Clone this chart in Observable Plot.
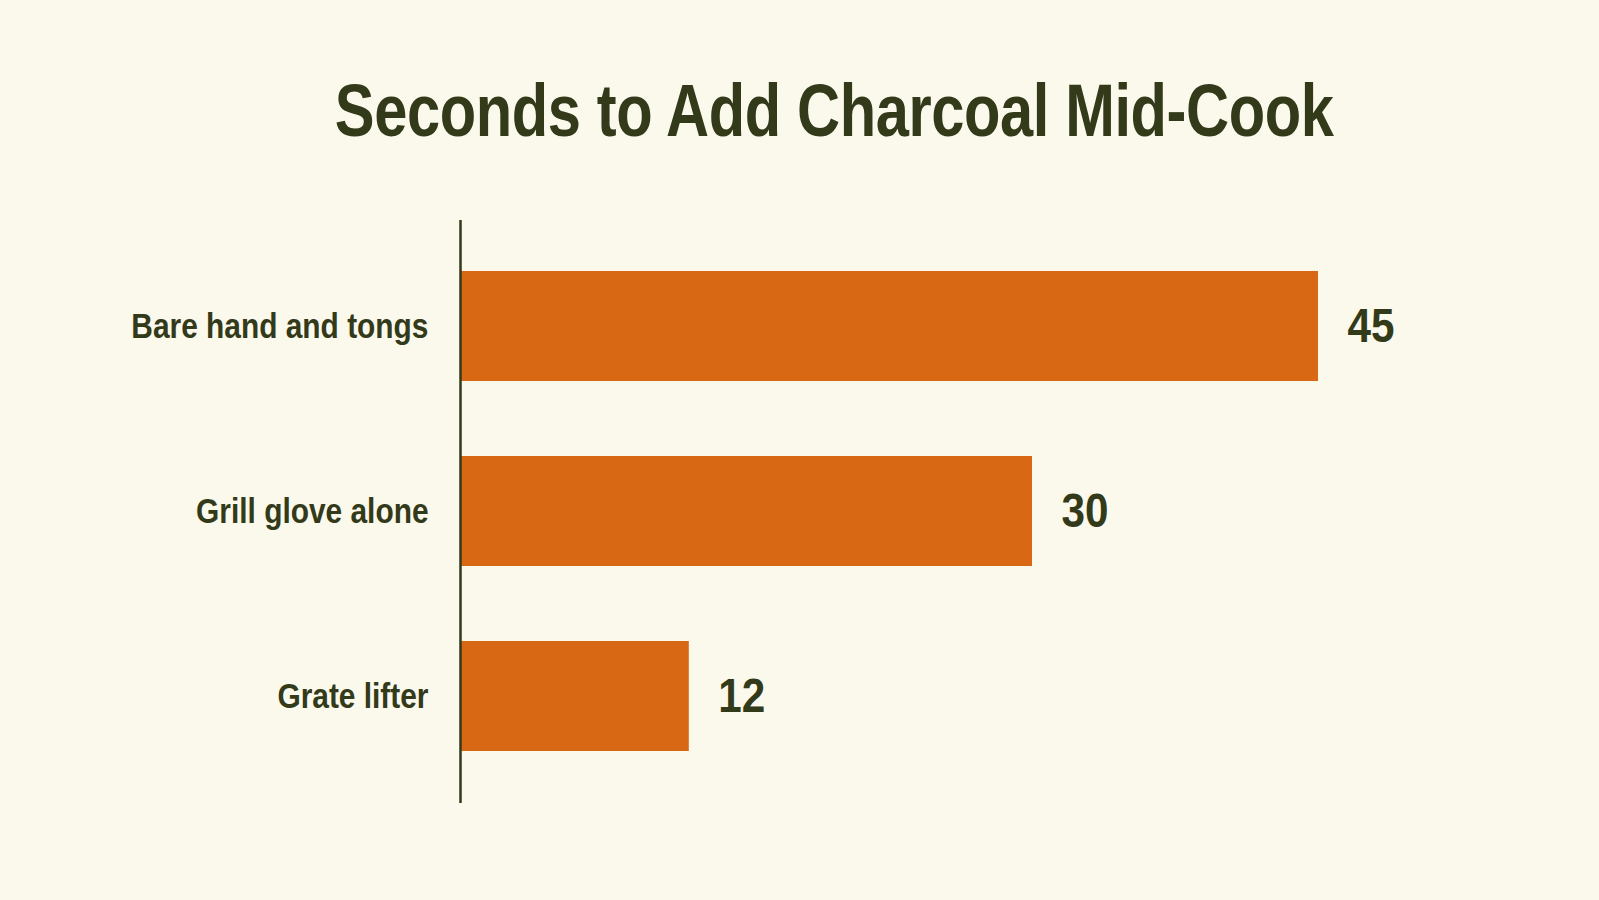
<!DOCTYPE html>
<html>
<head>
<meta charset="utf-8">
<script src="https://cdn.jsdelivr.net/npm/d3@7"></script>
<script src="https://cdn.jsdelivr.net/npm/@observablehq/plot@0.6"></script>
<style>
  html, body { margin: 0; padding: 0; background: #FBF8EC; overflow: hidden; }
  #title {
    margin: 73px 0 0 0; height: 75px; line-height: 75px;
    font-family: "Liberation Sans", Arial, sans-serif;
    font-weight: bold; font-size: 75px; color: #323A19;
    text-align: center; width: 1599px; padding-left: 70px; box-sizing: border-box;
    white-space: nowrap;
  }
  #title span { display: inline-block; transform: scaleX(0.795); transform-origin: 50% 50%; letter-spacing: -0.5px; }
  #chart svg { display: block; }
</style>
</head>
<body>
<div id="title"><span>Seconds to Add Charcoal Mid-Cook</span></div>
<div id="chart"></div>
<script>
const categories = ["Bare hand and tongs", "Grill glove alone", "Grate lifter"];
const seconds = [45, 30, 12];

const data = categories.map((c, i) => ({category: c, value: seconds[i]}));
const ink = "#323A19";
const barColor = "#D96814";

const chart = Plot.plot({
  width: 1599,
  height: 752,
  marginTop: 72,
  marginBottom: 97,
  marginLeft: 460,
  marginRight: 281,
  style: {background: "transparent", fontFamily: "'Liberation Sans', Arial, sans-serif", color: ink},
  x: {domain: [0, 45], axis: null},
  y: {domain: categories, paddingInner: 0.405, paddingOuter: 0.27, label: null},
  marks: [
    Plot.barX(data, {x: "value", y: "category", fill: barColor}),
    Plot.ruleX([0], {stroke: ink, strokeWidth: 2.5}),
    Plot.axisY({tickSize: 0, tickPadding: 32, fontSize: 36, fontWeight: "bold", fill: ink, label: null}),
    Plot.text(data, {x: "value", y: "category", text: d => String(d.value), dx: 29, textAnchor: "start", fontSize: 48, fontWeight: "bold", fill: ink})
  ]
});

// condense the text horizontally around each label's anchor (the reference uses a condensed face)
function squeeze(selector, s) {
  chart.querySelectorAll(selector).forEach(t => {
    const x = +t.getAttribute("x") || 0;
    const tr = t.getAttribute("transform") || "";
    t.setAttribute("transform", `${tr} translate(${x},0) scale(${s},1) translate(${-x},0)`);
  });
}
squeeze('g[aria-label="y-axis tick label"] text', 0.83);
squeeze('g[aria-label="text"] text', 0.88);

document.getElementById("chart").appendChild(chart);
</script>
</body>
</html>
